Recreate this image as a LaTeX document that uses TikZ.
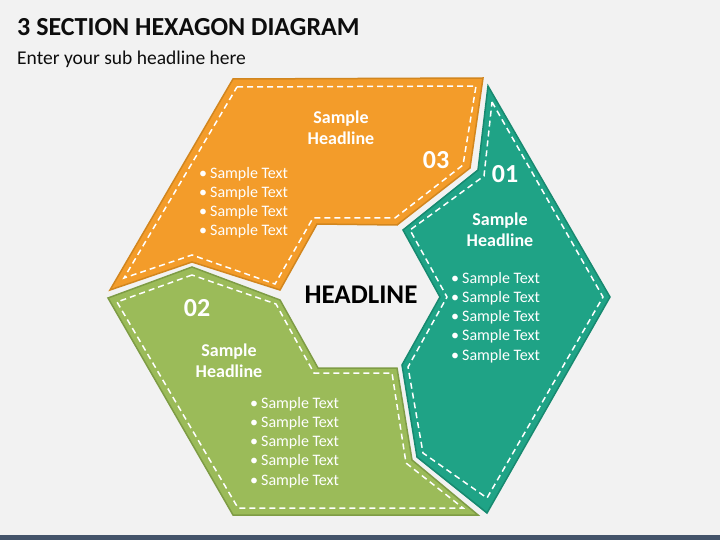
\documentclass[tikz,border=0pt]{standalone}
\usepackage{fontspec}
\setmainfont{Carlito}

\definecolor{bgcol}{HTML}{F2F2F2}
\definecolor{orangefill}{HTML}{F39C2A}
\definecolor{orangeline}{HTML}{D2861E}
\definecolor{tealfill}{HTML}{1FA386}
\definecolor{tealline}{HTML}{178A70}
\definecolor{greenfill}{HTML}{9BBB59}
\definecolor{greenline}{HTML}{7E9C45}
\definecolor{barcol}{HTML}{44546A}

\tikzset{
	section/.style={line width=1.5pt, line join=miter},
	stitch/.style={draw=white, line width=1.5pt, dash pattern=on 6pt off 4pt},
	number/.style={text=white, font=\bfseries\fontsize{26}{30}\selectfont, inner sep=0pt},
	headtext/.style={text=white, align=center, font=\bfseries\fontsize{18}{21}\selectfont, inner sep=0pt},
	itemtext/.style={text=white, align=left, font=\fontsize{16}{19.2}\selectfont, inner sep=0pt},
}

\begin{document}
\begin{tikzpicture}[x=1pt, y=-1pt]

% background and bottom bar
	\fill[bgcol] (0,0) rectangle (720,540);
	\useasboundingbox (0,0) rectangle (720,540);
	\fill[barcol] (0,535) rectangle (720,540);

% titles
	\node[anchor=base west, inner sep=0pt, text=black!95, font=\bfseries\fontsize{26}{30}\selectfont] (title) at (17,36) {3 SECTION HEXAGON DIAGRAM};
	\node[anchor=base west, inner sep=0pt, text=black!95, font=\fontsize{19.5}{23}\selectfont] (subtitle) at (17,65) {Enter your sub headline here};

% section 03 (orange)
	\filldraw[section, fill=orangefill, draw=orangeline]
	(233,79)--(483,78)--(470,168)--(397,225)--(317,224)--(280,290)--(192,262)--(110,290)--cycle;
	\draw[stitch]
	(237,87)--(476,86)--(463,165)--(395,218)--(313,218)--(275,284)--(192,255)--(124,278)--cycle;

% section 01 (teal)
	\filldraw[section, fill=tealfill, draw=tealline]
	(488,86)--(610,297)--(487,513)--(417,457)--(402,365)--(440,297)--(403,230)--(478,170)--cycle;
	\draw[stitch]
	(492,102)--(603,297)--(487,498)--(423,453)--(408,367)--(447,297)--(410,230)--(484,176)--cycle;

% section 02 (green)
	\filldraw[section, fill=greenfill, draw=greenline]
	(192,267)--(108,298)--(233,515)--(478,515)--(412,460)--(397,368)--(318,368)--(280,300)--cycle;
	\draw[stitch]
	(192,275)--(117,302)--(238,508)--(463,508)--(406,463)--(392,373)--(314,373)--(276,304)--cycle;

% texts of section 03 (anchors at the last line)
	\node[number] (num03) at (436,160) {03};
	\node[headtext, anchor=base] (head03) at (341,145) {Sample\\Headline};
	\node[itemtext, anchor=base west] (items03) at (199,236)
	{\textbullet\hspace{3pt}Sample Text\\\textbullet\hspace{3pt}Sample Text\\
	 \textbullet\hspace{3pt}Sample Text\\\textbullet\hspace{3pt}Sample Text};

% texts of section 01
	\node[number] (num01) at (505,174) {01};
	\node[headtext, anchor=base] (head01) at (500,247) {Sample\\Headline};
	\node[itemtext, anchor=base west] (items01) at (451,360)
	{\textbullet\hspace{3pt}Sample Text\\\textbullet\hspace{3pt}Sample Text\\
	 \textbullet\hspace{3pt}Sample Text\\\textbullet\hspace{3pt}Sample Text\\
	 \textbullet\hspace{3pt}Sample Text};

% texts of section 02
	\node[number] (num02) at (197,308) {02};
	\node[headtext, anchor=base] (head02) at (229,377) {Sample\\Headline};
	\node[itemtext, anchor=base west] (items02) at (250,485)
	{\textbullet\hspace{3pt}Sample Text\\\textbullet\hspace{3pt}Sample Text\\
	 \textbullet\hspace{3pt}Sample Text\\\textbullet\hspace{3pt}Sample Text\\
	 \textbullet\hspace{3pt}Sample Text};

% centre headline
	\node[anchor=base, inner sep=0pt, text=black, font=\bfseries\fontsize{27}{32}\selectfont] (headline) at (361,303) {HEADLINE};

\end{tikzpicture}
\end{document}
